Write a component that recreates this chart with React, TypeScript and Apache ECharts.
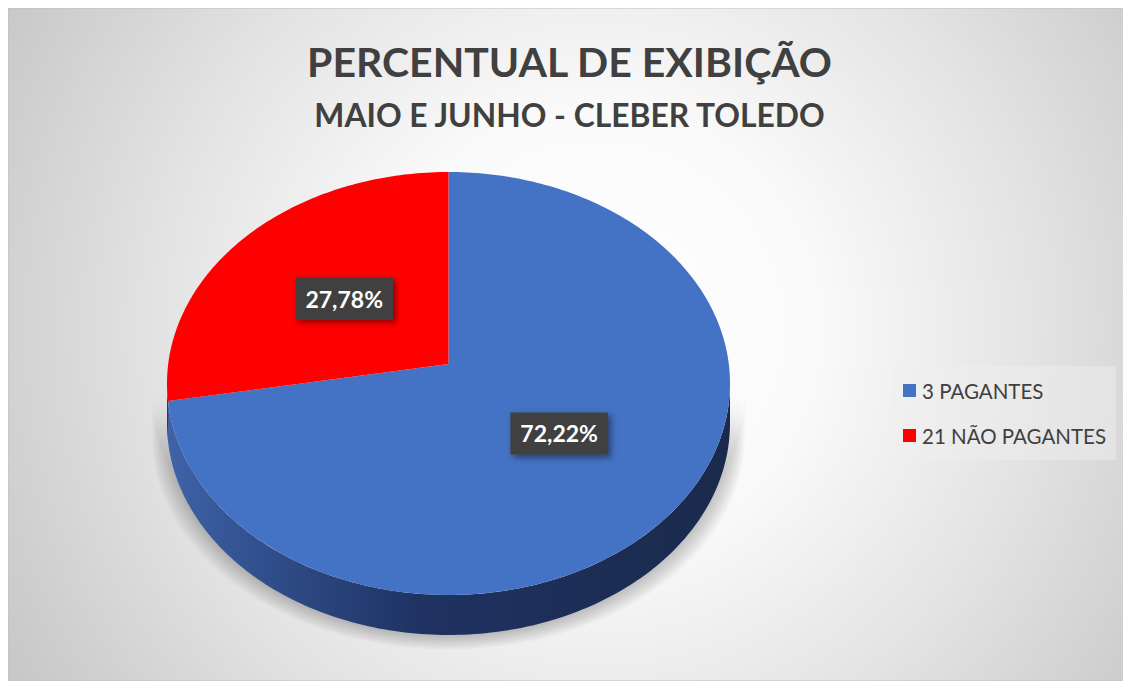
import React, { useEffect, useRef } from 'react';
import * as echarts from 'echarts';

// ---- data ----
const categories = ['3 PAGANTES', '21 NÃO PAGANTES'];
const percentValues = [72.22, 27.78];
const sliceColors = ['#4472C4', '#FF0000'];
const titleText = 'PERCENTUAL DE EXIBIÇÃO';
const subtitleText = 'MAIO E JUNHO - CLEBER TOLEDO';

// ---- geometry of the 3D pie (perspective-projected disc) ----
const CX = 440.5;
const CY = 375.5;
const RX = 281.5;
const RY = 211.5;
const TILT = -0.092;
const DEPTH = 40;
const START_DEG = -90;
const HALO_LAYERS = 8;

const sideStops = [
  [
    { offset: 0, color: '#4063a8' },
    { offset: 0.15, color: '#31518f' },
    { offset: 0.45, color: '#1f3262' },
    { offset: 1, color: '#1a2a4c' },
  ],
  [
    { offset: 0, color: '#b00000' },
    { offset: 1, color: '#700000' },
  ],
];

function proj(r: number, deg: number): number[] {
  const t = (deg * Math.PI) / 180;
  const u = r * Math.cos(t);
  const v = r * Math.sin(t);
  const d = 1 + TILT * v;
  return [CX + (RX * u * Math.sqrt(1 - TILT * TILT)) / d, CY + (RY * (v + TILT)) / d];
}

function arc(a0: number, a1: number, r = 1): number[][] {
  const n = Math.max(2, Math.ceil(Math.abs(a1 - a0)) + 1);
  const pts: number[][] = [];
  for (let i = 0; i < n; i++) {
    pts.push(proj(r, a0 + ((a1 - a0) * i) / (n - 1)));
  }
  return pts;
}

function sliceRange(idx: number, value: number): number[] {
  const total = percentValues.reduce((s, v) => s + v, 0);
  let a = START_DEG;
  for (let j = 0; j < idx; j++) a += (percentValues[j] / total) * 360;
  return [a, a + (value / total) * 360];
}

function makeRenderItem(idx: number) {
  return (params: any, api: any) => {
    const value = api.value(0);
    const [a0, a1] = sliceRange(idx, value);
    const children: any[] = [];

    // visible front wall: screen Y >= 0  <=>  sin >= -TILT
    const f1 = (Math.asin(-TILT) * 180) / Math.PI;
    const f2 = 180 - f1;
    for (let k = -1; k <= 1; k++) {
      const lo = Math.max(a0, f1 + 360 * k);
      const hi = Math.min(a1, f2 + 360 * k);
      if (hi > lo) {
        const topPts = arc(lo, hi);
        const botPts = topPts.map((p) => [p[0], p[1] + DEPTH]).reverse();
        // soft shadow halo
        for (let h = HALO_LAYERS; h >= 1; h--) {
          const sx = 1 + h * 0.0065;
          const haloTop = topPts.map((p) => [CX + (p[0] - CX) * sx, p[1] + h * 0.8]);
          const haloBot = botPts.map((p) => [CX + (p[0] - CX) * sx, p[1] + h * 1.8]);
          children.push({
            type: 'polygon',
            z2: 0,
            silent: true,
            shape: { points: haloTop.concat(haloBot) },
            style: { fill: 'rgba(0,0,0,0.028)' },
          });
        }
        children.push({
          type: 'polygon',
          z2: 1,
          shape: { points: topPts.concat(botPts) },
          style: {
            fill: new echarts.graphic.LinearGradient(CX - RX, 0, CX + RX, 0, sideStops[idx], true),
          },
        });
      }
    }

    // top face
    const topFace = [proj(0, a0)].concat(arc(a0, a1));
    children.push({
      type: 'polygon',
      z2: 5,
      shape: { points: topFace },
      style: { fill: sliceColors[idx] },
    });

    // data label
    const mid = (a0 + a1) / 2;
    const lp = proj(0.5, mid);
    children.push({
      type: 'text',
      z2: 10,
      x: lp[0],
      y: lp[1],
      style: {
        text: value.toFixed(2).replace('.', ',') + '%',
        fill: '#ffffff',
        fontFamily: 'Lato',
        fontWeight: 'bold',
        fontSize: 23,
        lineHeight: 23,
        align: 'center',
        verticalAlign: 'middle',
        backgroundColor: '#404040',
        padding: [10, 10, 9, 10],
        shadowColor: 'rgba(0,0,0,0.45)',
        shadowBlur: 6,
        shadowOffsetX: 3,
        shadowOffsetY: 3,
      },
    });

    return { type: 'group', children };
  };
}

export default function App() {
  const ref = useRef<HTMLDivElement>(null);

  useEffect(() => {
    if (!ref.current) return;
    const chart = echarts.init(ref.current, undefined, { renderer: 'svg' });
    const W = 1123;
    const H = 673;
    chart.setOption({
      animation: false,
      graphic: [
        {
          type: 'rect',
          z: -10,
          silent: true,
          shape: { x: 0, y: 0, width: W, height: H },
          style: {
            fill: new echarts.graphic.RadialGradient(
              590,
              320,
              720,
              [
                { offset: 0, color: '#ffffff' },
                { offset: 0.3, color: '#fafafa' },
                { offset: 0.6, color: '#e4e4e4' },
                { offset: 0.9, color: '#cbcbcb' },
                { offset: 1, color: '#c3c3c3' },
              ],
              true
            ),
            stroke: '#c0c0c0',
            lineWidth: 1,
          },
        },
      ],
      title: [
        {
          text: titleText,
          left: 'center',
          top: 28,
          textStyle: { fontFamily: 'Lato', fontWeight: 'bold', fontSize: 41, color: '#404040' },
        },
        {
          text: subtitleText,
          left: 'center',
          top: 86,
          textStyle: { fontFamily: 'Lato', fontWeight: 'bold', fontSize: 31.8, color: '#404040' },
        },
      ],
      legend: {
        orient: 'vertical',
        left: 885,
        top: 358,
        padding: [14, 10, 14, 10],
        itemGap: 24,
        itemWidth: 13,
        itemHeight: 13,
        icon: 'rect',
        backgroundColor: 'rgba(240,240,240,0.45)',
        data: categories,
        textStyle: { fontFamily: 'Lato', fontSize: 20.5, color: '#404040', padding: [0, 0, 0, 1] },
      },
      series: categories.map((name, i) => ({
        type: 'custom',
        name,
        coordinateSystem: 'none',
        color: sliceColors[i],
        data: [[percentValues[i]]],
        renderItem: makeRenderItem(i),
      })),
    });
    return () => chart.dispose();
  }, []);

  return <div ref={ref} style={{ width: 1123, height: 673 }} />;
}
